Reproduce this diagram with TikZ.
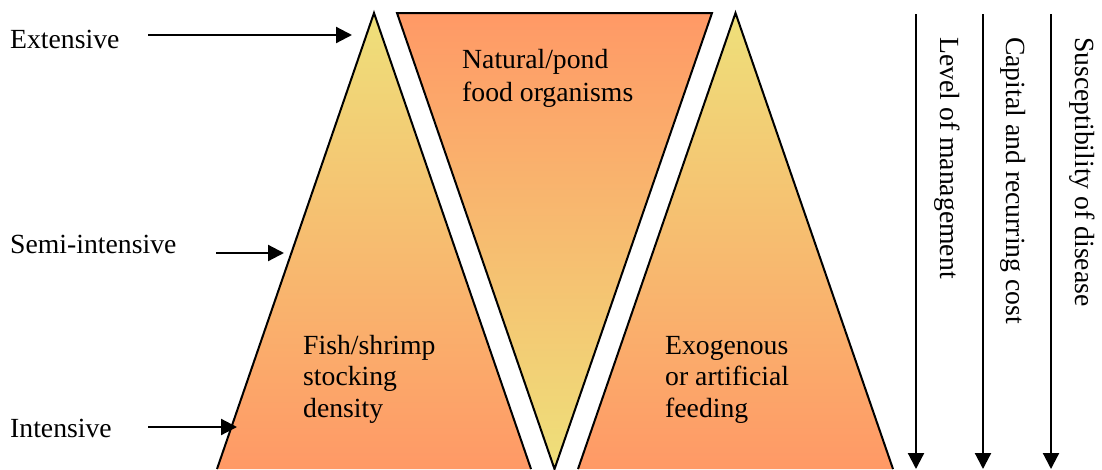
\documentclass[tikz,border=0pt]{standalone}
\usepackage{fontspec}
\setmainfont{Liberation Serif}
\usetikzlibrary{arrows.meta}
\definecolor{tyellow}{RGB}{238,224,122}
\definecolor{torange}{RGB}{255,153,102}
\begin{document}
\begin{tikzpicture}[x=1pt,y=-1pt,
  lbl/.style={font=\fontsize{27.7}{31.5}\selectfont, inner sep=0pt, anchor=base west, align=left},
  blk/.style={lbl, anchor=north west},
  arr/.style={line width=2.2pt, -{Triangle[length=16pt,width=16pt]}},
  tri/.style={line width=2pt, line join=miter}]
\useasboundingbox (0,0) rectangle (1102,469);
% triangles
\shade[top color=tyellow, bottom color=torange] (374,13) -- (531,469) -- (217,469) -- cycle;
\draw[tri] (217,469) -- (374,13) -- (531,469);
\shade[top color=torange, bottom color=tyellow] (397,13) -- (712,13) -- (554.5,469) -- cycle;
\draw[tri] (397,13) -- (712,13) -- (554.5,469) -- cycle;
\shade[top color=tyellow, bottom color=torange] (735.5,13) -- (893,469) -- (578,469) -- cycle;
\draw[tri] (578,469) -- (735.5,13) -- (893,469);
% texts inside
\node[blk, font=\fontsize{27.7}{33}\selectfont] (nat) at (462,49.5) {Natural/pond\\food organisms};
\node[blk] (fish) at (303,335) {Fish/shrimp\\stocking\\density};
\node[blk] (exo) at (665,336) {Exogenous\\or artificial\\feeding};
% left labels
\node[lbl] (ext) at (10,48) {Extensive};
\node[lbl] (semi) at (10,253) {Semi-intensive};
\node[lbl] (int) at (10,437) {Intensive};
\coordinate (extS) at (148,35);
\coordinate (extE) at (352,35);
\coordinate (semiS) at (216,253);
\coordinate (semiE) at (284,253);
\coordinate (intS) at (148,427);
\coordinate (intE) at (237,427);
\draw[arr] (extS) -- (extE);
\draw[arr] (semiS) -- (semiE);
\draw[arr] (intS) -- (intE);
% right vertical labels
\node[lbl, rotate=-90] (lvl) at (940,37) {Level of management};
\node[lbl, rotate=-90] (cap) at (1006,37) {Capital and recurring cost};
\node[lbl, rotate=-90] (sus) at (1075,37) {Susceptibility of disease};
\coordinate (v1S) at (916,14);
\coordinate (v1E) at (916,469);
\coordinate (v2S) at (983,14);
\coordinate (v2E) at (983,469);
\coordinate (v3S) at (1051,14);
\coordinate (v3E) at (1051,469);
\draw[arr] (v1S) -- (v1E);
\draw[arr] (v2S) -- (v2E);
\draw[arr] (v3S) -- (v3E);
\end{tikzpicture}
\end{document}
